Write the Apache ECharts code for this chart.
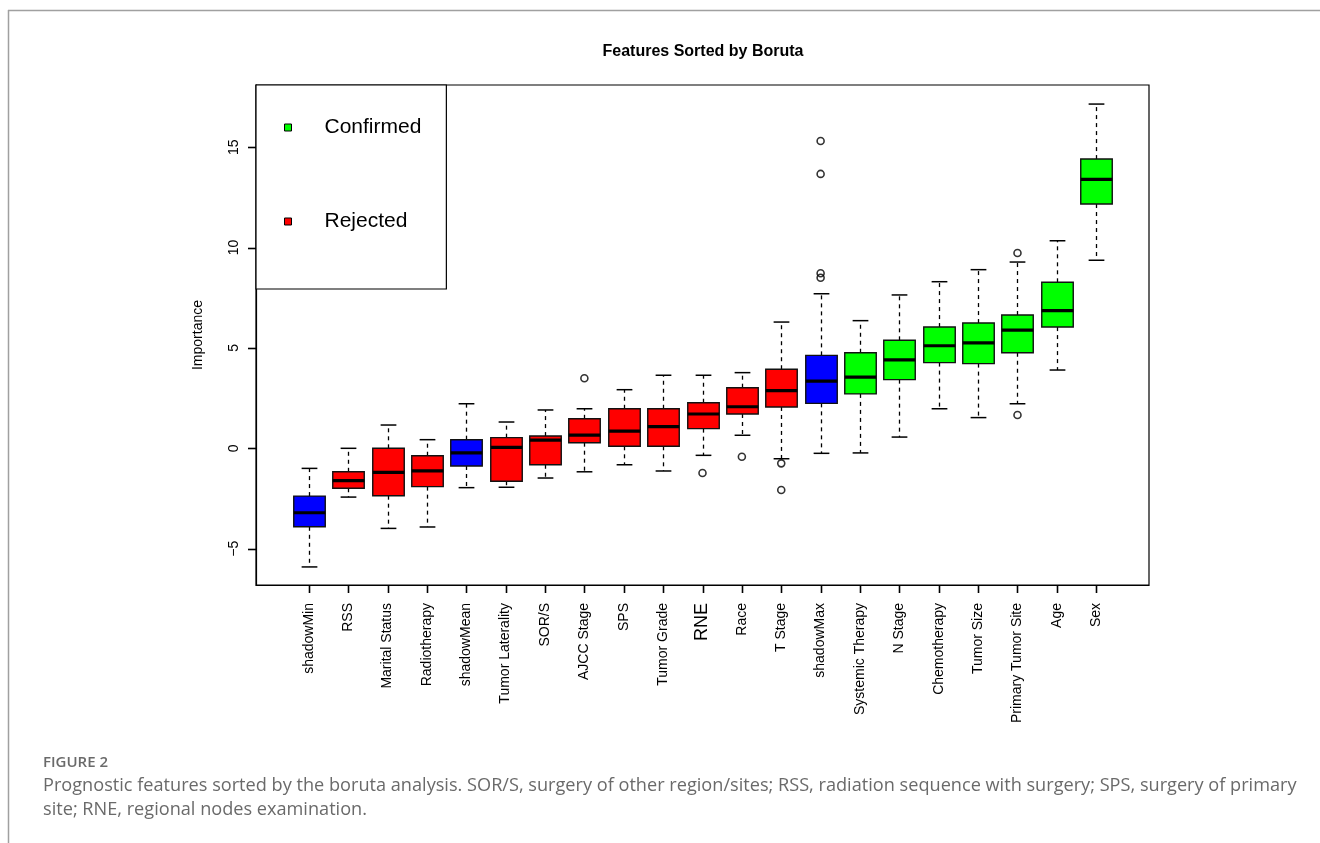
<!DOCTYPE html>
<html>
<head>
<meta charset="utf-8">
<title>Features Sorted by Boruta</title>
<script src="https://cdn.jsdelivr.net/npm/echarts@6/dist/echarts.min.js"></script>
<style>
  html, body { margin: 0; padding: 0; background: #ffffff; }
  #chart { width: 1320px; height: 843px; }
</style>
</head>
<body>
<div id="chart"></div>
<script>
// Boruta importance per feature, sorted by median importance
const categories = [
  'shadowMin', 'RSS', 'Marital Status', 'Radiotherapy', 'shadowMean',
  'Tumor Laterality', 'SOR/S', 'AJCC Stage', 'SPS', 'Tumor Grade',
  'RNE', 'Race', 'T Stage', 'shadowMax', 'Systemic Therapy',
  'N Stage', 'Chemotherapy', 'Tumor Size', 'Primary Tumor Site', 'Age', 'Sex'
];
const decision = [
  'Shadow', 'Rejected', 'Rejected', 'Rejected', 'Shadow',
  'Rejected', 'Rejected', 'Rejected', 'Rejected', 'Rejected',
  'Rejected', 'Rejected', 'Rejected', 'Shadow', 'Confirmed',
  'Confirmed', 'Confirmed', 'Confirmed', 'Confirmed', 'Confirmed', 'Confirmed'
];
const whiskerLow  = [-5.91, -2.43, -3.99, -3.92, -1.96, -1.94, -1.48, -1.17, -0.82, -1.13, -0.35, 0.65, -0.52, -0.25, -0.23, 0.56, 1.97, 1.53, 2.22, 3.90, 9.37];
const quartile1   = [-3.91, -1.99, -2.36, -1.91, -0.88, -1.64, -0.82, 0.28, 0.10, 0.10, 0.98, 1.71, 2.06, 2.24, 2.71, 3.42, 4.27, 4.22, 4.76, 6.04, 12.17];
const medians     = [-3.21, -1.61, -1.20, -1.12, -0.23, 0.05, 0.41, 0.66, 0.86, 1.08, 1.71, 2.07, 2.87, 3.35, 3.55, 4.41, 5.11, 5.25, 5.89, 6.86, 13.40];
const quartile3   = [-2.38, -1.17, 0.00, -0.37, 0.43, 0.53, 0.61, 1.47, 1.97, 1.97, 2.27, 3.02, 3.94, 4.63, 4.76, 5.38, 6.04, 6.24, 6.64, 8.27, 14.41];
const whiskerHigh = [-1.00, 0.00, 1.16, 0.43, 2.22, 1.31, 1.91, 1.97, 2.92, 3.64, 3.64, 3.77, 6.29, 7.70, 6.36, 7.64, 8.30, 8.90, 9.28, 10.34, 17.15];
// outliers: feature position (1-based) and importance
const outlierFeature = [8, 11, 12, 13, 13, 14, 14, 14, 14, 19, 19];
const outlierValue   = [3.49, -1.23, -0.42, -0.75, -2.08, 8.50, 8.72, 13.67, 15.31, 1.66, 9.73];
const yTicks = [-5, 0, 5, 10, 15];

const decisionColors = { Confirmed: '#00ff00', Rejected: '#ff0000', Shadow: '#0000ff' };
const TICK_LEN = 8;

function boxData(kind) {
  const rows = [];
  categories.forEach((c, i) => {
    if (decision[i] === kind) {
      rows.push([i + 1, whiskerLow[i], quartile1[i], medians[i], quartile3[i], whiskerHigh[i]]);
    }
  });
  return rows;
}

// R-style box: dashed whiskers, solid staples, thick median
function renderBox(params, api) {
  const x = api.value(0);
  const lo = api.coord([x, api.value(1)]);
  const q1 = api.coord([x, api.value(2)]);
  const md = api.coord([x, api.value(3)]);
  const q3 = api.coord([x, api.value(4)]);
  const hi = api.coord([x, api.value(5)]);
  const halfBox = api.size([0.4, 0])[0];
  const halfCap = api.size([0.2, 0])[0];
  const cx = Math.round(lo[0]) + 0.5;
  const dashed = { stroke: '#000', lineWidth: 1.3, lineDash: [4, 4] };
  const solid = { stroke: '#000', lineWidth: 1.5 };
  return {
    type: 'group',
    children: [
      { type: 'line', shape: { x1: cx, y1: q3[1], x2: cx, y2: hi[1] }, style: dashed },
      { type: 'line', shape: { x1: cx, y1: q1[1], x2: cx, y2: lo[1] }, style: dashed },
      { type: 'line', shape: { x1: cx - halfCap, y1: hi[1], x2: cx + halfCap, y2: hi[1] }, style: solid },
      { type: 'line', shape: { x1: cx - halfCap, y1: lo[1], x2: cx + halfCap, y2: lo[1] }, style: solid },
      {
        type: 'rect',
        shape: { x: cx - halfBox, y: q3[1], width: halfBox * 2, height: q1[1] - q3[1] },
        style: { fill: api.visual('color'), stroke: '#111', lineWidth: 1.4 }
      },
      { type: 'line', shape: { x1: cx - halfBox, y1: md[1], x2: cx + halfBox, y2: md[1] }, style: { stroke: '#000', lineWidth: 3.2 } }
    ]
  };
}

// outward tick on the left edge at a y value
function renderYTick(params, api) {
  const y = Math.round(api.coord([0, api.value(1)])[1]) + 0.5;
  const left = params.coordSys.x;
  return { type: 'line', shape: { x1: left - TICK_LEN, y1: y, x2: left, y2: y }, style: { stroke: '#000', lineWidth: 1.6 } };
}

// outward tick below the bottom edge at a feature position
function renderXTick(params, api) {
  const x = Math.round(api.coord([api.value(0), 0])[0]) + 0.5;
  const bottom = params.coordSys.y + params.coordSys.height;
  return { type: 'line', shape: { x1: x, y1: bottom, x2: x, y2: bottom + TICK_LEN }, style: { stroke: '#000', lineWidth: 1.6 } };
}

const chart = echarts.init(document.getElementById('chart'), null, { renderer: 'canvas' });

const featurePositions = categories.map((c, i) => i + 1);

chart.setOption({
  backgroundColor: '#ffffff',
  animation: false,
  title: {
    text: 'Features Sorted by Boruta',
    left: 703,
    top: 44,
    textAlign: 'center',
    padding: 0,
    textStyle: { fontFamily: 'Liberation Sans', fontSize: 16, fontWeight: 'bold', color: '#000' }
  },
  legend: {
    orient: 'vertical',
    left: 256,
    top: 85,
    padding: [32, 25, 57, 28],
    itemGap: 73,
    itemWidth: 7,
    itemHeight: 7,
    backgroundColor: '#ffffff',
    borderColor: '#000',
    borderWidth: 1.2,
    selectedMode: false,
    textStyle: { fontFamily: 'Liberation Sans', fontSize: 21, color: '#000', padding: [0, 0, 0, 28] },
    data: [
      { name: 'Confirmed', icon: 'rect', itemStyle: { color: '#00ff00', borderColor: '#000', borderWidth: 1 } },
      { name: 'Rejected', icon: 'rect', itemStyle: { color: '#ff0000', borderColor: '#000', borderWidth: 1 } }
    ]
  },
  grid: {
    left: 256, top: 85, width: 893, height: 500,
    show: true, borderColor: '#000', borderWidth: 1.2, backgroundColor: 'transparent'
  },
  xAxis: {
    type: 'value',
    position: 'bottom',
    min: -0.34,
    max: 22.34,
    splitLine: { show: false },
    axisLine: { show: true, onZero: false, lineStyle: { color: '#000', width: 1.2 } },
    axisTick: { show: false },
    axisLabel: {
      customValues: featurePositions,
      rotate: 90,
      margin: 18,
      fontFamily: 'Liberation Sans',
      fontSize: 14,
      color: '#000',
      formatter: v => {
        const name = categories[Math.round(v) - 1];
        return name === 'RNE' ? '{big|' + name + '}' : name;
      },
      rich: { big: { fontFamily: 'Liberation Sans', fontSize: 18, color: '#000' } }
    }
  },
  yAxis: {
    type: 'value',
    position: 'left',
    min: -6.81,
    max: 18.10,
    name: 'Importance',
    nameLocation: 'middle',
    nameGap: 51,
    nameTextStyle: { fontFamily: 'Liberation Sans', fontSize: 14, color: '#000' },
    splitLine: { show: false },
    axisLine: { show: true, onZero: false, lineStyle: { color: '#000', width: 1.2 } },
    axisTick: { show: false },
    axisLabel: {
      customValues: yTicks,
      rotate: 90,
      margin: 15,
      fontFamily: 'Liberation Sans',
      fontSize: 14,
      color: '#000',
      formatter: v => (v < 0 ? '\u2212' + Math.abs(v) : String(v))
    }
  },
  series: [
    { name: 'Confirmed', type: 'custom', renderItem: renderBox, itemStyle: { color: decisionColors.Confirmed }, data: boxData('Confirmed'), z: 2 },
    { name: 'Rejected', type: 'custom', renderItem: renderBox, itemStyle: { color: decisionColors.Rejected }, data: boxData('Rejected'), z: 2 },
    { name: 'Shadow', type: 'custom', renderItem: renderBox, itemStyle: { color: decisionColors.Shadow }, data: boxData('Shadow'), z: 2 },
    {
      name: 'Outliers',
      type: 'scatter',
      symbol: 'circle',
      symbolSize: 7,
      itemStyle: { color: 'rgba(0,0,0,0)', borderColor: '#000', borderWidth: 1.6 },
      data: outlierFeature.map((f, i) => [f, outlierValue[i]]),
      z: 3
    },
    { name: 'yAxisTicks', type: 'custom', silent: true, clip: false, renderItem: renderYTick, data: yTicks.map(v => [0, v]), z: 10 },
    { name: 'xAxisTicks', type: 'custom', silent: true, clip: false, renderItem: renderXTick, data: featurePositions.map(p => [p, 0]), z: 10 }
  ],
  graphic: [
    { type: 'line', shape: { x1: 8, y1: 10.5, x2: 1320, y2: 10.5 }, style: { stroke: '#a0a0a0', lineWidth: 1.5 } },
    { type: 'line', shape: { x1: 8.5, y1: 10, x2: 8.5, y2: 843 }, style: { stroke: '#a0a0a0', lineWidth: 1.5 } },
    {
      type: 'text', x: 43, y: 763,
      style: { text: 'FIGURE 2', fontFamily: 'Open Sans', fontWeight: 600, fontSize: 15, fill: '#6a6a6a', verticalAlign: 'middle' }
    },
    {
      type: 'text', x: 43, y: 786,
      style: {
        text: 'Prognostic features sorted by the boruta analysis. SOR/S, surgery of other region/sites; RSS, radiation sequence with surgery; SPS, surgery of primary',
        fontFamily: 'Open Sans', fontSize: 18.15, fill: '#6a6a6a', verticalAlign: 'middle'
      }
    },
    {
      type: 'text', x: 43, y: 810,
      style: { text: 'site; RNE, regional nodes examination.', fontFamily: 'Open Sans', fontSize: 18.15, fill: '#6a6a6a', verticalAlign: 'middle' }
    }
  ]
});
</script>
</body>
</html>
